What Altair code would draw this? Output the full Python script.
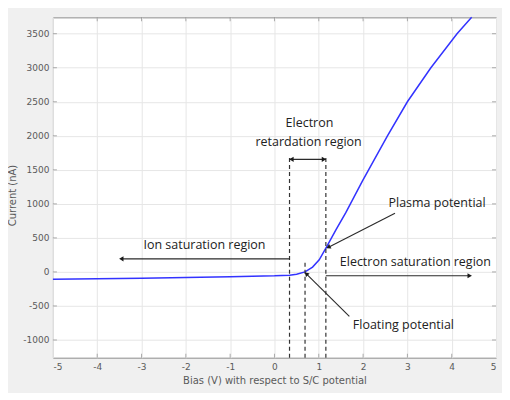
import altair as alt
import pandas as pd

# I-V curve (Bias V, Current nA)
curve_v = [-5, -4, -3, -2, -1, 0, 0.34, 0.5, 0.69, 0.86, 1.01, 1.17, 1.39, 1.61, 1.99, 2.55, 3.0, 3.53, 4.12, 4.45]
curve_i = [-107, -100, -92, -82, -70, -58, -48, -35, 0, 71, 178, 360, 620, 870, 1340, 2000, 2500, 3000, 3500, 3740]

# dashed markers
dash_x = [0.34, 0.69, 1.16]
dash_top = [1716, 152, 1716]

# arrow shafts (tail -> head)
arrow_x1 = [0.34, 0.34, 1.16, 2.72, 1.69]
arrow_y1 = [1654, 192, -57, 862, -654]
arrow_x2 = [1.16, -3.45, 4.40, 1.22, 0.72]
arrow_y2 = [1654, 192, -57, 363, -30]

# arrow heads
head_x = [0.40, 1.10, -3.44, 4.39, 1.23, 0.73]
head_y = [1654, 1654, 192, -57, 367, -34]
head_angle = [270, 90, 270, 90, 243, 315]

# annotation texts
ann_text = ["Electron", "retardation region", "Ion saturation region",
            "Electron saturation region", "Plasma potential", "Floating potential"]
ann_x = [0.79, 0.77, -1.58, 3.18, 3.67, 2.91]
ann_y = [2186, 1912, 397, 152, 1013, -786]

x_ticks = [-5, -4, -3, -2, -1, 0, 1, 2, 3, 4, 5]
y_ticks = [-1000, -500, 0, 500, 1000, 1500, 2000, 2500, 3000, 3500]

XD = [-5, 5]
YD = [-1260, 3740]
W, H = 444, 341
AXC = "#8c8c8c"
LBL = "#5a5a5a"

xs = alt.Scale(domain=XD, nice=False, zero=False)
ys = alt.Scale(domain=YD, nice=False, zero=False)

curve_df = pd.DataFrame({"v": curve_v, "i": curve_i})
dash_df = pd.DataFrame({"x": dash_x, "top": dash_top, "bot": [YD[0]] * len(dash_x)})
arrow_df = pd.DataFrame({"x1": arrow_x1, "y1": arrow_y1, "x2": arrow_x2, "y2": arrow_y2})
head_df = pd.DataFrame({"x": head_x, "y": head_y, "a": head_angle})
ann_df = pd.DataFrame({"t": ann_text, "x": ann_x, "y": ann_y})
xt_df = pd.DataFrame({"x": x_ticks[1:-1]})
yt_df = pd.DataFrame({"y": y_ticks})

label_expr = "replace(datum.label, '\u2212', '-')"

AXX = alt.Axis(values=x_ticks, title="Bias (V) with respect to S/C potential",
               format="d", labelOverlap=False, tickCount=11,
               grid=True, gridColor="#e6e6e6", ticks=False, domain=False,
               labelFont="DejaVu Sans", labelFontSize=9, labelColor=LBL,
               labelPadding=5, labelExpr=label_expr,
               titleFont="DejaVu Sans", titleFontSize=10, titleFontWeight="normal",
               titleColor=LBL, titlePadding=4)
AXY = alt.Axis(values=y_ticks, title="Current (nA)",
               format="d", labelOverlap=False, tickCount=10,
               grid=True, gridColor="#e6e6e6", ticks=False, domain=False,
               labelFont="DejaVu Sans", labelFontSize=9, labelColor=LBL,
               labelPadding=4, labelExpr=label_expr,
               titleFont="DejaVu Sans", titleFontSize=10, titleFontWeight="normal",
               titleColor=LBL, titleX=-40, titleY=178, titleBaseline="middle")


def X(f):
    return alt.X(f, scale=xs, axis=AXX, title="Bias (V) with respect to S/C potential")


def Y(f):
    return alt.Y(f, scale=ys, axis=AXY, title="Current (nA)")


curve = alt.Chart(curve_df).mark_line(color="#3333ff", strokeWidth=1.5).encode(
    x=X("v:Q"), y=Y("i:Q"))

xtb = alt.Chart(xt_df).mark_tick(orient="vertical", color=AXC, size=4, thickness=1).encode(
    x=X("x:Q"), y=alt.value(H - 2))
xtt = alt.Chart(xt_df).mark_tick(orient="vertical", color=AXC, size=4, thickness=1).encode(
    x=X("x:Q"), y=alt.value(2))
ytl = alt.Chart(yt_df).mark_tick(orient="horizontal", color=AXC, size=4, thickness=1).encode(
    y=Y("y:Q"), x=alt.value(2))
ytr = alt.Chart(yt_df).mark_tick(orient="horizontal", color=AXC, size=4, thickness=1).encode(
    y=Y("y:Q"), x=alt.value(W - 2))

dashes = alt.Chart(dash_df).mark_rule(color="#333333", strokeWidth=1.2, strokeDash=[4, 3]).encode(
    x=X("x:Q"), y=Y("bot:Q"), y2="top:Q")

arrows = alt.Chart(arrow_df).mark_rule(color="#2a2a2a", strokeWidth=1.1).encode(
    x=X("x1:Q"), y=Y("y1:Q"), x2="x2:Q", y2="y2:Q")

heads = alt.Chart(head_df).mark_point(shape="triangle", filled=True, color="#1a1a1a",
                                      size=26, opacity=1).encode(
    x=X("x:Q"), y=Y("y:Q"), angle=alt.Angle("a:Q", scale=None))

texts = alt.Chart(ann_df).mark_text(font="Open Sans", fontSize=12.5, color="#222222",
                                    align="center", baseline="middle").encode(
    x=X("x:Q"), y=Y("y:Q"), text="t:N")

chart = alt.layer(curve, dashes, arrows, heads, texts, xtb, xtt, ytl, ytr).properties(
    width=W, height=H,
    autosize=alt.AutoSizeParams(type="none"),
    padding={"left": 45, "top": 9, "right": 6, "bottom": 35},
    background="#f0f0f0",
).configure_view(stroke=AXC, strokeWidth=1, fill="white")

chart.save("out.html", embed_options={"renderer": "svg", "actions": False})
